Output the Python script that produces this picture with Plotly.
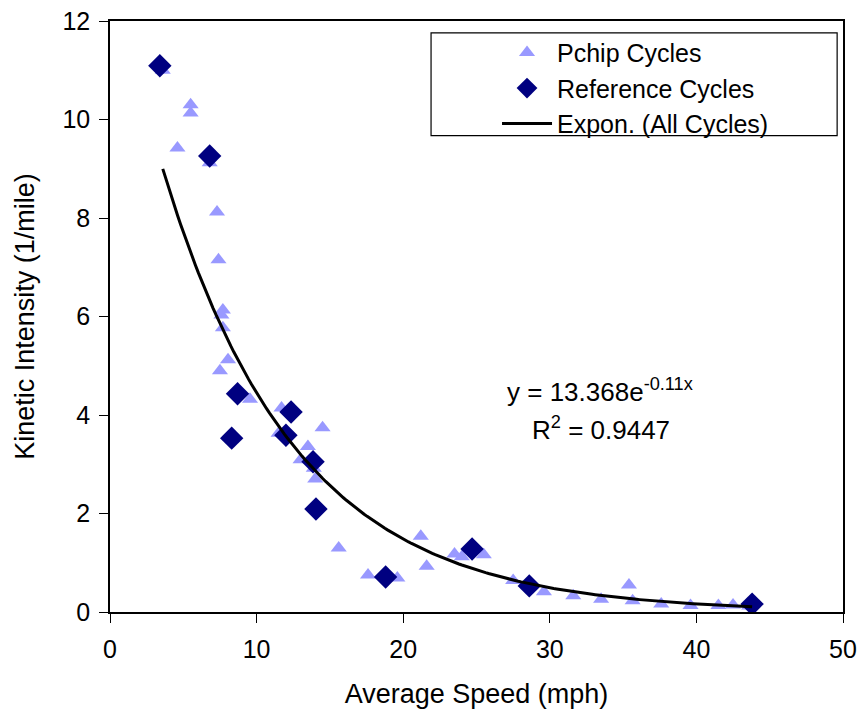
import numpy as np
import plotly.graph_objects as go

# Pchip cycles (triangles)
pchip_speed = [3.6, 5.5, 5.5, 4.6, 6.8, 7.3, 7.4, 7.7, 7.6, 7.7, 8.05, 7.5, 9.55,
               11.7, 14.5, 11.5, 13.5, 13.0, 13.9, 14.0, 15.6, 17.6, 19.6, 21.2,
               21.6, 23.5, 24.0, 25.5, 27.5, 29.6, 31.6, 33.5, 35.4, 35.65, 37.6,
               39.6, 41.5, 42.5, 43.6]
pchip_ki = [11.0, 10.3, 10.13, 9.42, 9.12, 8.12, 7.15, 6.13, 6.03, 5.77, 5.12, 4.9, 4.32,
            4.14, 3.74, 3.63, 3.36, 3.09, 2.92, 2.70, 1.30, 0.75, 0.69, 1.54,
            0.93, 1.18, 1.12, 1.16, 0.64, 0.41, 0.33, 0.26, 0.55, 0.23, 0.16,
            0.13, 0.13, 0.14, 0.12]

# Reference cycles (diamonds)
ref_speed = [3.4, 6.8, 8.7, 8.3, 12.35, 12.0, 13.85, 14.05, 18.8, 24.7, 28.6, 43.8]
ref_ki = [11.09, 9.26, 4.43, 3.53, 4.06, 3.59, 3.05, 2.09, 0.71, 1.28, 0.53, 0.16]

# Exponential trendline (All Cycles): y = 13.368 e^(-0.11x)
fit_a = 13.368
fit_b = -0.11
fit_r2 = 0.9447
fit_x_range = [3.6, 43.8]

x_ticks = [0, 10, 20, 30, 40, 50]
y_ticks = [0, 2, 4, 6, 8, 10, 12]

fit_x = np.linspace(fit_x_range[0], fit_x_range[1], 200)
fit_y = fit_a * np.exp(fit_b * fit_x)

FONT = "Liberation Sans, Arial, sans-serif"

fig = go.Figure()
fig.add_trace(go.Scatter(
    x=pchip_speed, y=pchip_ki, mode="markers", name="Pchip Cycles",
    marker=dict(symbol="triangle-up", size=14, color="#9999FF", line=dict(width=0)),
))
fig.add_trace(go.Scatter(
    x=ref_speed, y=ref_ki, mode="markers", name="Reference Cycles",
    marker=dict(symbol="diamond", size=18, color="#000080", line=dict(width=0)),
))
fig.add_trace(go.Scatter(
    x=fit_x, y=fit_y, mode="lines", name="Expon. (All Cycles)",
    line=dict(color="black", width=3),
))

fig.add_annotation(
    x=33.4, y=4.5, xref="x", yref="y", showarrow=False,
    text=f"y = {fit_a}e<sup>{fit_b}x</sup>",
    font=dict(family=FONT, size=26, color="black"),
)
fig.add_annotation(
    x=33.5, y=3.72, xref="x", yref="y", showarrow=False,
    text=f"R<sup>2</sup> = {fit_r2}",
    font=dict(family=FONT, size=26, color="black"),
)

# legend frame
fig.add_shape(type="rect", xref="paper", yref="paper",
              x0=0.438, x1=0.992, y0=0.806, y1=0.980,
              line=dict(color="black", width=1.2), fillcolor="white", layer="below")

fig.update_layout(
    width=861, height=717,
    margin=dict(l=110, r=18, t=21, b=105),
    paper_bgcolor="white", plot_bgcolor="white",
    font=dict(family=FONT, size=24, color="black"),
    showlegend=True,
    legend=dict(
        x=0.528, y=0.985, xanchor="left", yanchor="top",
        bgcolor="rgba(0,0,0,0)", borderwidth=0,
        font=dict(family=FONT, size=25, color="black"),
        itemwidth=50, tracegroupgap=0,
    ),
    xaxis=dict(
        range=[0, 50], tickvals=x_ticks, showgrid=False, zeroline=False,
        showline=True, linecolor="black", linewidth=1.5, mirror=True,
        ticks="outside", ticklen=9, tickcolor="black", automargin=False,
        ticklabelstandoff=5,
        title=dict(text="Average Speed (mph)", font=dict(size=27), standoff=22),
        tickfont=dict(size=25),
    ),
    yaxis=dict(
        range=[0, 12], tickvals=y_ticks, showgrid=False, zeroline=False,
        showline=True, linecolor="black", linewidth=1.5, mirror=True,
        ticks="outside", ticklen=9, tickcolor="black", automargin=False,
        ticklabelstandoff=4,
        title=dict(text="Kinetic Intensity (1/mile)", font=dict(size=27), standoff=20),
        tickfont=dict(size=25),
    ),
)

fig.write_html("out.html")
